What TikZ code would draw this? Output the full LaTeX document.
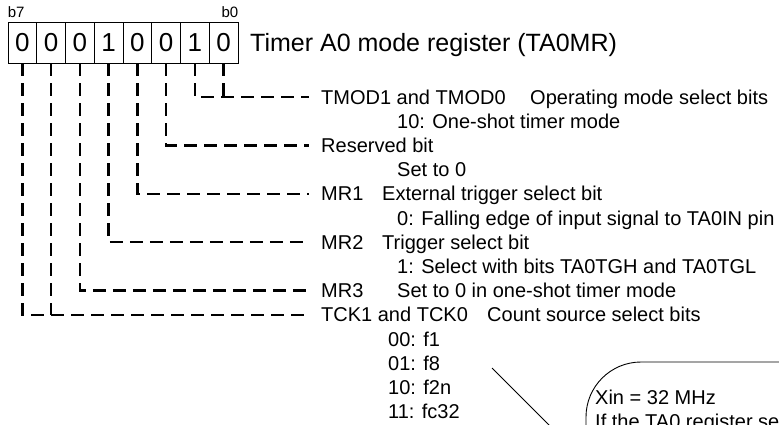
\documentclass[tikz,border=0pt]{standalone}
\usepackage{fontspec}
\setmainfont{Liberation Sans}
\usetikzlibrary{positioning}

\begin{document}
\begin{tikzpicture}[x=1pt, y=-1pt,
			cell/.style={draw, line width=0.9pt, minimum width=28.75pt, minimum height=41pt, inner sep=0pt, font=\fontsize{26}{30}\selectfont},
			lbl/.style={anchor=west, inner sep=0pt, text height=14.3pt, text depth=0pt, font=\fontsize{20}{24}\selectfont},
			bitno/.style={inner sep=0pt, font=\fontsize{15}{18}\selectfont},
			leg/.style={line width=2.5pt, dash pattern=on 13pt off 7pt, shorten >=12pt},
			thinline/.style={line width=0.9pt}]
			%Bildbereich
			\useasboundingbox (0,0) rectangle (779,424);
			\clip (0,0) rectangle (779,424);
			% Register zeichnen
			\foreach \b/\v [count=\i from 0] in {7/0,6/0,5/0,4/1,3/0,2/0,1/1,0/0}
				\node[cell] (b\b) at (22.4+28.75*\i, 42.5) {\v};
			\node[bitno, anchor=base west, yshift=4pt] (lbseven) at (b7.north west) {b7};
			\node[bitno, anchor=base east, yshift=4pt] (lbzero) at (b0.north east) {b0};
			\node[lbl, text height=17.9pt, font=\fontsize{25}{30}\selectfont] (title) at (250,43) {Timer A0 mode register (TA0MR)};
			% Bits beschriften
			\node[lbl] (tmod) at (321,97) {TMOD1 and TMOD0};
			\node[lbl] (tmodd) at (530,97) {Operating mode select bits};
			\node[lbl] (tmodv) at (397,121.2) {10: One-shot timer mode};
			\node[lbl] (res) at (321,145.4) {Reserved bit};
			\node[lbl] (resv) at (397,169.6) {Set to 0};
			\node[lbl] (mra) at (321,193.8) {MR1};
			\node[lbl] (mrad) at (382,193.8) {External trigger select bit};
			\node[lbl] (mrav) at (397,218) {0: Falling edge of input signal to TA0IN pin};
			\node[lbl] (mrb) at (321,242.2) {MR2};
			\node[lbl] (mrbd) at (382,242.2) {Trigger select bit};
			\node[lbl] (mrbv) at (397,266.4) {1: Select with bits TA0TGH and TA0TGL};
			\node[lbl] (mrc) at (321,290.6) {MR3};
			\node[lbl] (mrcd) at (397,290.6) {Set to 0 in one-shot timer mode};
			\node[lbl] (tck) at (321,314.8) {TCK1 and TCK0};
			\node[lbl] (tckd) at (487,314.8) {Count source select bits};
			\foreach \t [count=\k from 0] in {00: f1, 01: f8, 10: f2n, 11: fc32}
				\node[lbl] (src\k) at (388, 339+24.2*\k) {\t};
			% Zuordnungslinien
			\draw[leg] (b1.south) |- (tmod.west);
			\draw[leg, shorten >=0pt] (b0.south) -- (b0.south |- tmod.west);
			\draw[leg] (b2.south) |- (res.west);
			\draw[leg] (b3.south) |- (mra.west);
			\draw[leg] (b4.south) |- (mrb.west);
			\draw[leg] (b5.south) |- (mrc.west);
			\draw[leg] (b7.south) |- (tck.west);
			\draw[leg, shorten >=0pt] (b6.south) -- (b6.south |- tck.west);
			% Hinweis
			\draw[thinline, rounded corners=55pt] (586,640) |- (1000,362);
			\node[lbl] (xin) at (595,397) {Xin = 32 MHz};
			\node[lbl] (ifta) at (595,421.2) {If the TA0 register setting};
			\coordinate (ptip) at (492,368);
			\coordinate (pfoot) at (586,462);
			\draw[thinline] (ptip) -- (pfoot);
		\end{tikzpicture}
\end{document}
